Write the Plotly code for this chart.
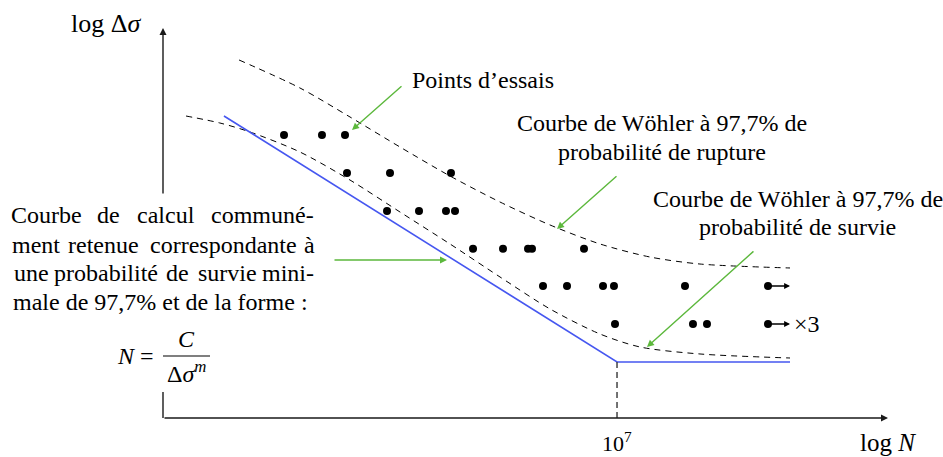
import plotly.graph_objects as go

# ---- data (x = log N, y = log Δσ, arbitrary diagram units) ----
dots_x = [1.866, 2.451, 2.806,
          2.837, 3.500, 4.440,
          3.454, 3.947, 4.363, 4.502,
          4.780, 5.242, 5.628, 5.689, 6.491,
          5.859, 6.229, 6.784, 6.953, 8.048, 9.328,
          6.969, 8.171, 8.387, 9.328]
dots_y = [4.363, 4.363, 4.363,
          3.777, 3.777, 3.777,
          3.192, 3.192, 3.192, 3.192,
          2.610, 2.610, 2.610, 2.610, 2.610,
          2.035, 2.035, 2.035, 2.035, 2.035, 2.035,
          1.449, 1.449, 1.449, 1.449]
runout_x = [9.328, 9.328]
runout_y = [2.035, 1.449]
runout_end_x = 9.667

rupture_x = [1.172, 2.112, 2.883, 3.654, 4.425, 5.196, 5.967, 6.738, 7.508, 8.279, 9.667]
rupture_y = [5.520, 5.088, 4.641, 4.178, 3.731, 3.330, 2.976, 2.683, 2.482, 2.374, 2.313]

survie_x = [0.355, 0.879, 1.341, 2.112, 2.883, 3.654, 4.425, 5.196, 5.967, 6.738, 7.354, 8.279, 9.667]
survie_y = [4.656, 4.548, 4.410, 4.101, 3.669, 3.176, 2.683, 2.174, 1.681, 1.295, 1.095, 0.987, 0.925]

calc_x = [0.940, 7.0, 9.667]
calc_y = [4.656, 0.863, 0.863]

knee_logN = 7.0
knee_label = "10<sup>7</sup>"

# ---- styles ----
FONT = "Liberation Serif"
BLUE = "#4657f0"
GREEN = "#5cb83c"
INK = "#1a1a1a"

fig = go.Figure()

fig.add_trace(go.Scatter(x=rupture_x, y=rupture_y, mode="lines",
                         line=dict(color="black", width=1, dash="6px,5px", shape="spline", smoothing=0.8),
                         hoverinfo="skip", showlegend=False))
fig.add_trace(go.Scatter(x=survie_x, y=survie_y, mode="lines",
                         line=dict(color="black", width=1, dash="6px,5px", shape="spline", smoothing=0.8),
                         hoverinfo="skip", showlegend=False))
fig.add_trace(go.Scatter(x=calc_x, y=calc_y, mode="lines",
                         line=dict(color=BLUE, width=1.6),
                         hoverinfo="skip", showlegend=False))
# vertical dashed line at the knee
fig.add_trace(go.Scatter(x=[knee_logN, knee_logN], y=[0, calc_y[1]], mode="lines",
                         line=dict(color="#444444", width=1.5, dash="6px,4px"),
                         hoverinfo="skip", showlegend=False))
fig.add_trace(go.Scatter(x=dots_x, y=dots_y, mode="markers",
                         marker=dict(color="black", size=8),
                         hoverinfo="skip", showlegend=False))

# axes (drawn by hand, y axis interrupted by the paragraph)
fig.add_trace(go.Scatter(x=[0, 0], y=[0, 0.401], mode="lines",
                         line=dict(color=INK, width=1.4), hoverinfo="skip", showlegend=False))
fig.add_trace(go.Scatter(x=[0, 0.725], y=[0.956, 0.956], mode="lines",
                         line=dict(color="black", width=1.2), hoverinfo="skip", showlegend=False))

ann = []
def arrow(x0, y0, x1, y1, color, width=1.4, head=2, size=1.0):
    ann.append(dict(x=x1, y=y1, ax=x0, ay=y0, xref="x", yref="y", axref="x", ayref="y",
                    text="", showarrow=True, arrowhead=head, arrowsize=size,
                    arrowwidth=width, arrowcolor=color, standoff=0, startstandoff=0))

arrow(0, 0, 11.178, 0, INK, 1.4, 2, 1.0)
arrow(0, 3.438, 0, 6.013, INK, 1.4, 2, 1.0)
for rx, ry in zip(runout_x, runout_y):
    arrow(rx, ry, runout_end_x, ry, "black", 1.3, 2, 0.9)

arrow(3.700, 5.134, 2.914, 4.440, GREEN)
arrow(7.015, 3.747, 6.075, 2.914, GREEN)
arrow(9.127, 2.590, 7.462, 1.095, GREEN)
arrow(2.621, 2.436, 4.379, 2.436, GREEN)

def txt(x, y, s, size=24, xanchor="center"):
    ann.append(dict(x=x, y=y, xref="x", yref="y", text=s, showarrow=False,
                    xanchor=xanchor, yanchor="middle", borderpad=0,
                    font=dict(family=FONT, size=size, color="black")))

txt(-0.879, 6.075, "log Δ<i>σ</i>", 26)
txt(11.178, -0.37, "log <i>N</i>", 25)
txt(knee_logN, -0.37, knee_label, 22)
txt(9.713, 1.449, "×3", 24, "left")
txt(3.824, 5.211, "Points d’essais", 24, "left")
txt(7.693, 4.548, "Courbe de Wöhler à 97,7% de")
txt(7.693, 4.101, "probabilité de rupture")
txt(9.790, 3.377, "Courbe de Wöhler à 97,7% de")
txt(9.790, 2.945, "probabilité de survie")

S = 64.86
def px(v):
    return (v - 163) / S

para = [
    (3.130, [("Courbe", 46), ("de", 108.5), ("calcul", 165.5), ("communé-", 262.5)]),
    (2.667, [("ment", 36), ("retenue", 103), ("correspondante", 223), ("à", 309)]),
    (2.236, [("une", 31), ("probabilité", 106), ("de", 177.5), ("survie", 227), ("mini-", 288)]),
]
for yy, words in para:
    for w, cx in words:
        txt(px(cx), yy, w, 24, "center")
txt(px(12), 1.788, "male de 97,7% et de la forme :", 24, "left")

txt(-0.123, 0.956, "<i>N</i> =", 24, "right")
txt(0.362, 1.218, "<i>C</i>", 24)
txt(0.362, 0.709, "Δ<i>σ</i><sup><i>m</i></sup>", 24)

fig.update_layout(
    width=943, height=457,
    margin=dict(l=0, r=0, t=0, b=0),
    paper_bgcolor="white", plot_bgcolor="white",
    xaxis=dict(range=[-163 / S, 780 / S], visible=False, fixedrange=True),
    yaxis=dict(range=[-39 / S, 418 / S], visible=False, fixedrange=True),
    annotations=ann,
    showlegend=False,
)

fig.write_html("out.html", config={"displayModeBar": False},
               post_script="document.body.style.margin='0';document.body.style.padding='0';document.body.style.overflow='hidden';")
